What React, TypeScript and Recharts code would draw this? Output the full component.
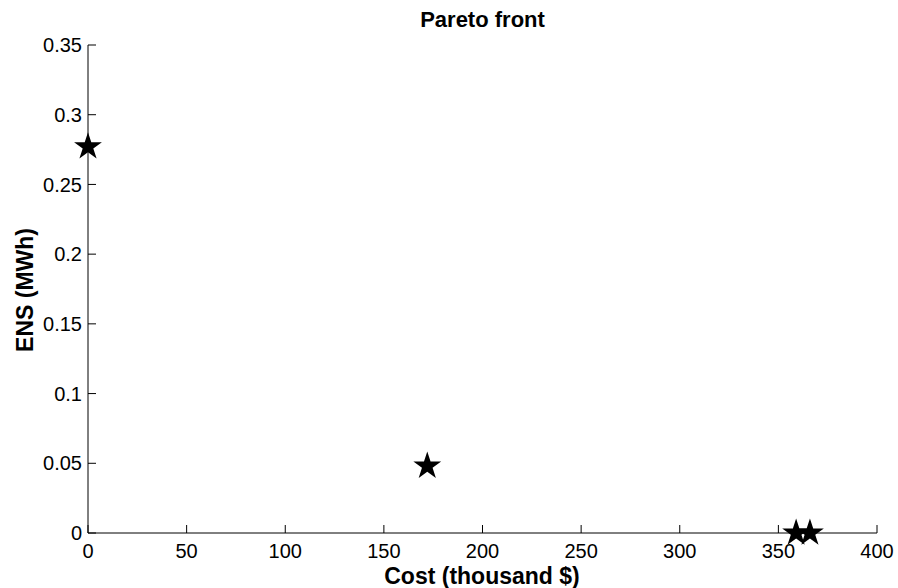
import { ScatterChart, Scatter, XAxis, YAxis, Label, Symbols } from 'recharts';

// Pareto solutions: investment cost vs. energy not supplied
const costs = [0, 172, 359, 366];
const ens = [0.277, 0.048, 0, 0];

const xTicks = [0, 50, 100, 150, 200, 250, 300, 350, 400];
const yTicks = [0, 0.05, 0.1, 0.15, 0.2, 0.25, 0.3, 0.35];

const data = costs.map((c, i) => ({ cost: c, ens: ens[i] }));

const FONT = '"Liberation Sans", Arial, Helvetica, sans-serif';
const TICK_LEN = 8;

// MATLAB-style ticks point into the plot area
function XTick(props: any) {
  const { x, y, payload } = props;
  return (
    <g>
      <line x1={x} y1={y} x2={x} y2={y - TICK_LEN} stroke="#000" strokeWidth={1} />
      <text x={x} y={y + 25} textAnchor="middle" fontSize={20} fontFamily={FONT} fill="#000">
        {payload.value}
      </text>
    </g>
  );
}

function YTick(props: any) {
  const { x, y, payload } = props;
  return (
    <g>
      <line x1={x} y1={y} x2={x + TICK_LEN} y2={y} stroke="#000" strokeWidth={1} />
      <text x={x - 6} y={y} dy="0.36em" textAnchor="end" fontSize={20} fontFamily={FONT} fill="#000">
        {payload.value}
      </text>
    </g>
  );
}

// pentagram marker like MATLAB's 'p'
function StarMarker(props: any) {
  return <Symbols cx={props.cx} cy={props.cy} type="star" size={240} sizeType="area" fill="#000" />;
}

export default function App() {
  return (
    <div style={{ position: 'absolute', left: 0, top: 0, width: 898, height: 588, background: '#fff' }}>
      <div
        style={{
          position: 'absolute',
          left: 88,
          width: 789,
          top: 8,
          textAlign: 'center',
          fontFamily: FONT,
          fontWeight: 'bold',
          fontSize: 22,
          lineHeight: '24px',
        }}
      >
        Pareto front
      </div>
      <ScatterChart width={898} height={588} margin={{ top: 45, right: 21, bottom: 0, left: 0 }}>
        <XAxis
          type="number"
          dataKey="cost"
          domain={[0, 400]}
          ticks={xTicks}
          interval={0}
          height={55}
          tickSize={0}
          tickMargin={0}
          tickLine={false}
          axisLine={{ stroke: '#000', strokeWidth: 1 }}
          tick={<XTick />}
        >
          <Label
            content={() => (
              <text x={482} y={584} textAnchor="middle" fontSize={23} fontWeight="bold" fontFamily={FONT} fill="#000">
                Cost (thousand $)
              </text>
            )}
          />
        </XAxis>
        <YAxis
          type="number"
          dataKey="ens"
          domain={[0, 0.35]}
          ticks={yTicks}
          interval={0}
          width={88}
          tickSize={0}
          tickMargin={0}
          tickLine={false}
          axisLine={{ stroke: '#000', strokeWidth: 1 }}
          tick={<YTick />}
        >
          <Label
            content={() => (
              <text
                x={33}
                y={290}
                transform="rotate(-90 33 290)"
                textAnchor="middle"
                fontSize={23}
                fontWeight="bold"
                fontFamily={FONT}
                fill="#000"
              >
                ENS (MWh)
              </text>
            )}
          />
        </YAxis>
        <Scatter data={data} shape={<StarMarker />} isAnimationActive={false} />
      </ScatterChart>
    </div>
  );
}
